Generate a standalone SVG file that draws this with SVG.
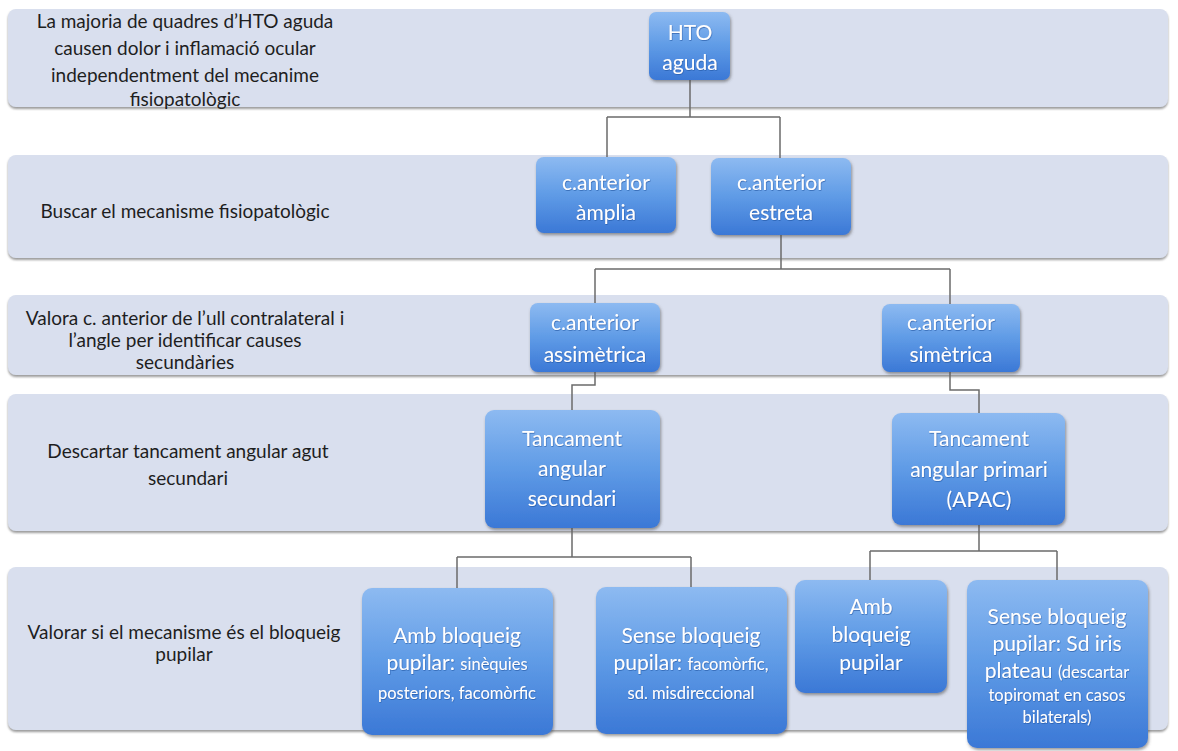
<svg xmlns="http://www.w3.org/2000/svg" width="1178" height="751" viewBox="0 0 1178 751">
<defs>
<linearGradient id="boxg" x1="0" y1="0" x2="0" y2="1">
<stop offset="0" stop-color="#8dbaf1"/>
<stop offset="0.5" stop-color="#5f9be6"/>
<stop offset="1" stop-color="#3b78d6"/>
</linearGradient>
<filter id="sh" x="-10%" y="-10%" width="125%" height="130%">
<feDropShadow dx="1" dy="2" stdDeviation="1.6" flood-color="#4a4a4a" flood-opacity="0.55"/>
</filter>
<filter id="bsh" x="-5%" y="-10%" width="110%" height="130%">
<feDropShadow dx="0" dy="2" stdDeviation="1.2" flood-color="#707070" flood-opacity="0.7"/>
</filter>
<filter id="tsh" x="-10%" y="-20%" width="120%" height="150%">
<feDropShadow dx="0.5" dy="0.8" stdDeviation="0.6" flood-color="#1d4f9a" flood-opacity="0.7"/>
</filter>
</defs>
<style>
.band{fill:#d9dfee;filter:url(#bsh)}
.box{fill:url(#boxg);filter:url(#sh)}
.lt{font-family:Lato,"Liberation Sans",sans-serif;font-size:19px;fill:#1e1e1e;text-anchor:middle}
.bt{font-family:Lato,"Liberation Sans",sans-serif;font-size:21px;fill:#ffffff;text-anchor:middle;filter:url(#tsh)}
.sm{font-size:16.5px}
.con{fill:none;stroke:#6b6b6b;stroke-width:1.5}
</style>
<rect width="1178" height="751" fill="#ffffff"/>
<g id="bands">
<rect class="band" x="8" y="9" width="1160" height="98" rx="8"/>
<rect class="band" x="8" y="155" width="1160" height="103" rx="8"/>
<rect class="band" x="8" y="295" width="1160" height="80" rx="8"/>
<rect class="band" x="8" y="394" width="1160" height="137" rx="8"/>
<rect class="band" x="8" y="567" width="1160" height="163" rx="8"/>
</g>
<g id="row-labels">
<text class="lt" x="185" y="28">La majoria de quadres d’HTO aguda</text>
<text class="lt" x="185" y="55">causen dolor i inflamació ocular</text>
<text class="lt" x="185" y="82">independentment del mecanime</text>
<text class="lt" x="185" y="106">fisiopatològic</text>
<text class="lt" x="185" y="218">Buscar el mecanisme fisiopatològic</text>
<text class="lt" x="185" y="325">Valora c. anterior de l’ull contralateral i</text>
<text class="lt" x="185" y="347">l’angle per identificar causes</text>
<text class="lt" x="185" y="369">secundàries</text>
<text class="lt" x="188" y="458">Descartar tancament angular agut</text>
<text class="lt" x="188" y="485">secundari</text>
<text class="lt" x="184" y="639">Valorar si el mecanisme és el bloqueig</text>
<text class="lt" x="184" y="661">pupilar</text>
</g>
<g id="connectors">
<path class="con" d="M690 80 V117 M607 117 H780 M607 117 V157 M780 117 V158"/>
<path class="con" d="M781 235 V269 M595 269 H950 M595 269 V303 M950 269 V304"/>
<path class="con" d="M595 372 V385 H572 V410"/>
<path class="con" d="M950 372 V390 H979 V413"/>
<path class="con" d="M572 528 V557 M457 557 H691 M457 557 V588 M691 557 V587"/>
<path class="con" d="M979 525 V551 M870 551 H1057 M870 551 V580 M1057 551 V580"/>
</g>
<g id="n-hto">
<rect class="box" x="649" y="12" width="81" height="68" rx="7"/>
<text class="bt" x="690" y="40">HTO</text>
<text class="bt" x="690" y="70">aguda</text>
</g>
<g id="n-amplia">
<rect class="box" x="536" y="157" width="140" height="76" rx="8"/>
<text class="bt" x="606" y="190">c.anterior</text>
<text class="bt" x="606" y="220">àmplia</text>
</g>
<g id="n-estreta">
<rect class="box" x="711" y="158" width="140" height="77" rx="8"/>
<text class="bt" x="781" y="190">c.anterior</text>
<text class="bt" x="781" y="220">estreta</text>
</g>
<g id="n-assimetrica">
<rect class="box" x="530" y="303" width="130" height="69" rx="8"/>
<text class="bt" x="595" y="330">c.anterior</text>
<text class="bt" x="595" y="362">assimètrica</text>
</g>
<g id="n-simetrica">
<rect class="box" x="882" y="304" width="138" height="68" rx="8"/>
<text class="bt" x="951" y="330">c.anterior</text>
<text class="bt" x="951" y="362">simètrica</text>
</g>
<g id="n-tanc-sec">
<rect class="box" x="485" y="410" width="175" height="118" rx="9"/>
<text class="bt" x="572" y="446" font-size="22">Tancament</text>
<text class="bt" x="572" y="476" font-size="22">angular</text>
<text class="bt" x="572" y="506" font-size="22">secundari</text>
</g>
<g id="n-tanc-pri">
<rect class="box" x="892" y="413" width="173" height="112" rx="9"/>
<text class="bt" x="979" y="446" font-size="22">Tancament</text>
<text class="bt" x="979" y="477" font-size="22">angular primari</text>
<text class="bt" x="979" y="507" font-size="22">(APAC)</text>
</g>
<g id="n-amb-sec">
<rect class="box" x="362" y="588" width="191" height="147" rx="10"/>
<text class="bt" x="457" y="643" font-size="22">Amb bloqueig</text>
<text class="bt" x="457" y="670" font-size="22">pupilar: <tspan class="sm">sinèquies</tspan></text>
<text class="bt sm" x="457" y="699">posteriors, facomòrfic</text>
</g>
<g id="n-sense-sec">
<rect class="box" x="596" y="587" width="191" height="147" rx="10"/>
<text class="bt" x="691" y="643" font-size="22">Sense bloqueig</text>
<text class="bt" x="691" y="670" font-size="22">pupilar: <tspan class="sm">facomòrfic,</tspan></text>
<text class="bt sm" x="691" y="699">sd. misdireccional</text>
</g>
<g id="n-amb-pri">
<rect class="box" x="795" y="580" width="152" height="113" rx="10"/>
<text class="bt" x="871" y="614" font-size="22">Amb</text>
<text class="bt" x="871" y="642" font-size="22">bloqueig</text>
<text class="bt" x="871" y="670" font-size="22">pupilar</text>
</g>
<g id="n-sense-pri">
<rect class="box" x="967" y="580" width="181" height="168" rx="10"/>
<text class="bt" x="1057" y="624" font-size="22">Sense bloqueig</text>
<text class="bt" x="1057" y="651" font-size="22">pupilar: Sd iris</text>
<text class="bt" x="1057" y="678" font-size="22">plateau <tspan class="sm">(descartar</tspan></text>
<text class="bt sm" x="1057" y="701">topiromat en casos</text>
<text class="bt sm" x="1057" y="723">bilaterals)</text>
</g>
</svg>
